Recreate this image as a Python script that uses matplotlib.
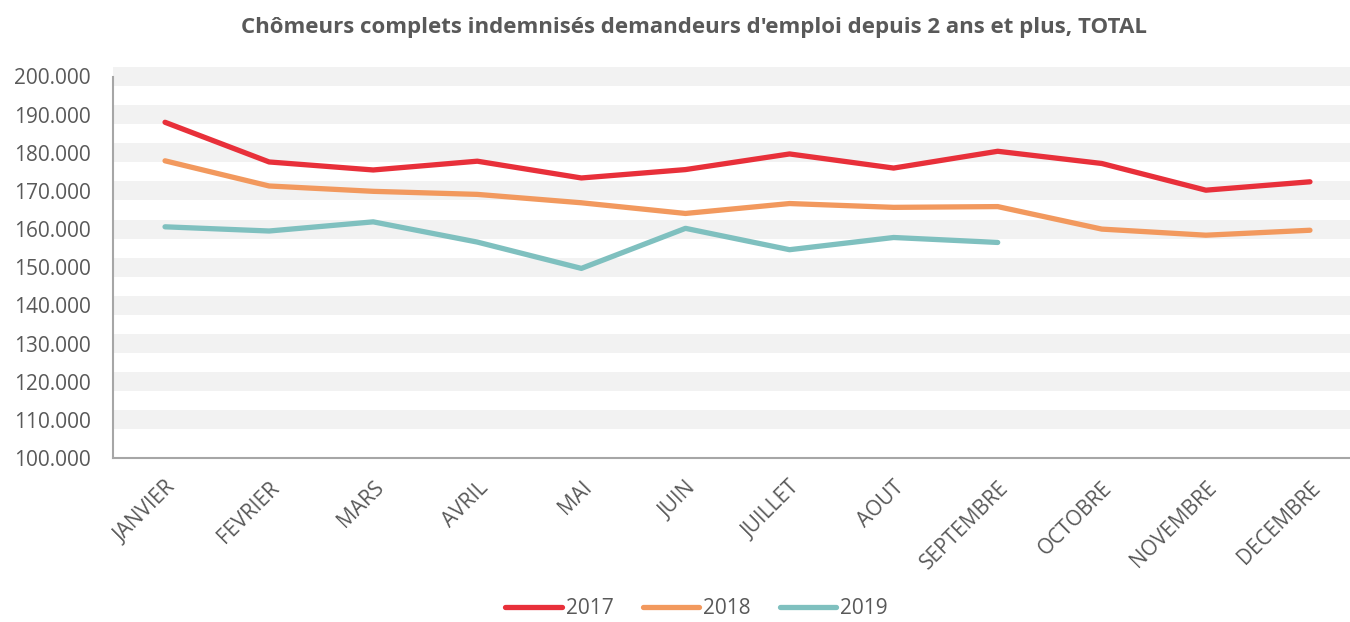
import matplotlib
matplotlib.use("Agg")
import matplotlib.pyplot as plt
from matplotlib.ticker import FuncFormatter

# --- Data -------------------------------------------------------------------
MONTHS = ['JANVIER', 'FEVRIER', 'MARS', 'AVRIL', 'MAI', 'JUIN', 'JUILLET',
          'AOUT', 'SEPTEMBRE', 'OCTOBRE', 'NOVEMBRE', 'DECEMBRE']
Y2017 = [188000, 177600, 175500, 177800, 173400, 175600, 179700, 176000,
         180400, 177200, 170200, 172400]
Y2018 = [177900, 171300, 169900, 169100, 166900, 164100, 166700, 165700,
         165900, 160000, 158400, 159700]
Y2019 = [160600, 159500, 161900, 156600, 149700, 160200, 154600, 157800,
         156500]
Y_TICKS = list(range(100000, 200001, 10000))

COLORS = {'2017': '#E8303A', '2018': '#F2995E', '2019': '#7FC0BF'}
TEXT_COLOR = '#595959'

plt.rcParams['font.family'] = ['Open Sans', 'DejaVu Sans']

fig = plt.figure(figsize=(13.5, 6.22), dpi=100)
ax = fig.add_axes([113 / 1350, 1 - 458 / 622, 1249 / 1350, (458 - 76.5) / 622])

# alternating bands centred on each tick (except the baseline)
for v in Y_TICKS[1:]:
    ax.axhspan(v - 2500, v + 2500, color='#F2F2F2', zorder=0, clip_on=False, lw=0)

x = list(range(len(MONTHS)))
for label, vals in (('2017', Y2017), ('2018', Y2018), ('2019', Y2019)):
    ax.plot(x[:len(vals)], vals, color=COLORS[label], lw=3.8,
            solid_capstyle='round', solid_joinstyle='round', label=label, zorder=3)

ax.set_xlim(-0.5, len(MONTHS) - 0.5)
ax.set_ylim(100000, 200000)
ax.set_yticks(Y_TICKS)
ax.yaxis.set_major_formatter(FuncFormatter(lambda v, p: f"{int(v):,}".replace(',', '.')))
ax.set_xticks(x)
ax.set_xticklabels(MONTHS, rotation=45, ha='right', va='top', rotation_mode='anchor')
ax.tick_params(axis='both', length=0, colors=TEXT_COLOR, labelsize=15)
ax.tick_params(axis='x', pad=14)
ax.tick_params(axis='y', pad=16)

for s in ('top', 'right'):
    ax.spines[s].set_visible(False)
for s in ('left', 'bottom'):
    ax.spines[s].set_color('#A6A6A6')
    ax.spines[s].set_linewidth(1.5)

fig.text(0.514, 0.955, "Chômeurs complets indemnisés demandeurs d'emploi depuis 2 ans et plus, TOTAL",
         ha='center', va='center', fontsize=16, fontweight='bold', color=TEXT_COLOR)

leg = fig.legend(loc='center', bbox_to_anchor=(0.516, 0.021), ncol=3, frameon=False,
                 fontsize=15, handlelength=2.7, handletextpad=0.2, columnspacing=1.4)
for t in leg.get_texts():
    t.set_color(TEXT_COLOR)

fig.savefig('out.png', dpi=100)
